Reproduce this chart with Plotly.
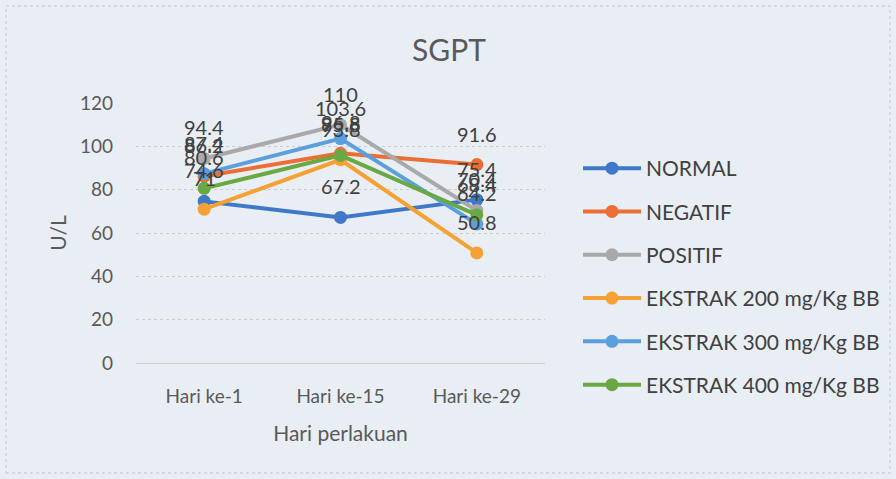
import plotly.graph_objects as go

categories = ["Hari ke-1", "Hari ke-15", "Hari ke-29"]
normal = [74.6, 67.2, 75.4]
negatif = [86.2, 96.8, 91.6]
positif = [94.4, 110, 70.4]
ekstrak200 = [71, 93.8, 50.8]
ekstrak300 = [87.4, 103.6, 64.2]
ekstrak400 = [80.6, 95.8, 68.4]
series_names = ["NORMAL", "NEGATIF", "POSITIF", "EKSTRAK 200 mg/Kg BB",
                "EKSTRAK 300 mg/Kg BB", "EKSTRAK 400 mg/Kg BB"]
series_values = [normal, negatif, positif, ekstrak200, ekstrak300, ekstrak400]
colors = ["#3F78C8", "#EB6E35", "#A9A9A9", "#F5A133", "#5B9FDD", "#6AA844"]

FONT = "Lato, 'Open Sans', sans-serif"
BG = "#E9EEF5"
L, R, T, B = 136, 351, 103, 116
W, H = 896, 479
pw, ph = W - L - R, H - T - B

fig = go.Figure()
annotations = []
for i, (name, vals, c) in enumerate(zip(series_names, series_values, colors)):
    fig.add_trace(go.Scatter(
        x=categories, y=vals, name=name, mode="lines+markers",
        line=dict(color=c, width=4),
        marker=dict(color=c, size=13),
        cliponaxis=False, legendgroup=f"g{i}",
    ))
    for cat, v in zip(categories, vals):
        annotations.append(dict(
            x=cat, y=v, xref="x", yref="y", text=f"{v:g}", showarrow=False,
            yshift=31, xanchor="center", yanchor="middle",
            font=dict(family=FONT, size=20, color="#404040"),
        ))

def px_x(p):
    return (p - L) / pw

def px_y(p):
    return (H - B - p) / ph

fig.update_layout(
    width=W, height=H,
    margin=dict(l=L, r=R, t=T, b=B, autoexpand=False),
    paper_bgcolor=BG, plot_bgcolor=BG,
    font=dict(family=FONT, color="#595959", size=16),
    title=dict(text="SGPT", x=(449 / W), xanchor="center", y=1 - 50 / H, yanchor="middle",
               font=dict(family=FONT, size=30, color="#595959")),
    xaxis=dict(type="category", range=[-0.5, 2.5], showgrid=False, automargin=False,
               showline=True, linecolor="#C9CCD1", linewidth=1,
               ticks="", tickfont=dict(size=19, color="#595959"), ticklabelstandoff=16,
               title=dict(text="Hari perlakuan", font=dict(size=21, color="#595959"), standoff=20)),
    yaxis=dict(range=[0, 120], dtick=20, showgrid=True, gridcolor="#C9CCD1", automargin=False,
               gridwidth=1, griddash="dot", zeroline=False, showline=False,
               tickfont=dict(size=19, color="#595959"), ticks="", ticklabelstandoff=22,
               title=dict(text="U/L", font=dict(size=21, color="#595959"), standoff=7)),
    legend=dict(x=px_x(578), xanchor="left", y=px_y(148), yanchor="top",
                bgcolor="rgba(0,0,0,0)", font=dict(family=FONT, size=21, color="#404040"),
                tracegroupgap=13, itemwidth=58, traceorder="grouped", maxheight=479),
    showlegend=True,
    annotations=annotations,
    shapes=[dict(type="rect", xref="paper", yref="paper",
                 x0=px_x(6), x1=px_x(890), y0=px_y(473), y1=px_y(6),
                 line=dict(color="#BFC3C9", width=1, dash="dot"))],
)

fig.write_html("out.html", config={"displayModeBar": False},
               post_script="document.body.style.margin='0';document.body.style.background='%s';" % BG)
